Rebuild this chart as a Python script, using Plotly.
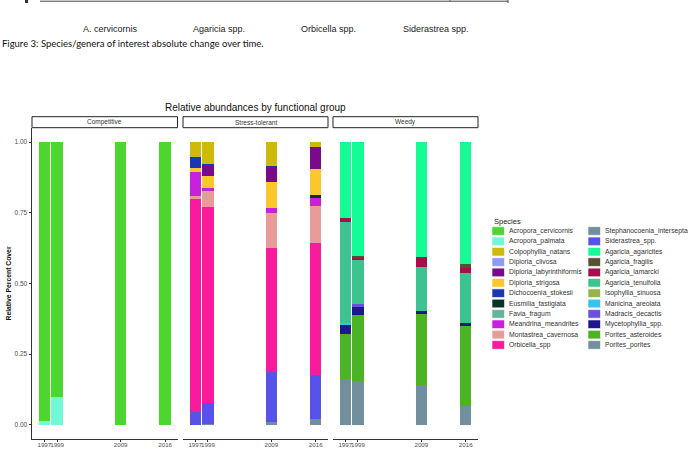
import plotly.graph_objects as go

W, H = 692, 449

years = [1997, 1999, 2009, 2016]
year_labels = ["1997", "1999", "2009", "2016"]
y_ticks = [0.0, 0.25, 0.5, 0.75, 1.0]
y_tick_labels = ["0.00", "0.25", "0.50", "0.75", "1.00"]
facets = ["Competitive", "Stress-tolerant", "Weedy"]

competitive = {
    "Acropora_cervicornis": [0.988, 0.903, 1.0, 1.0],
    "Acropora_palmata": [0.012, 0.097, 0.0, 0.0],
}
stress_tolerant = {
    "Colpophyllia_natans": [0.054, 0.078, 0.083, 0.016],
    "Dichocoenia_stokesii": [0.037, 0.004, 0.007, 0.0],
    "Diploria_labyrinthiformis": [0.0, 0.038, 0.050, 0.079],
    "Diploria_strigosa": [0.016, 0.041, 0.094, 0.092],
    "Eusmilia_fastigiata": [0.0, 0.0, 0.0, 0.009],
    "Meandrina_meandrites": [0.085, 0.013, 0.015, 0.029],
    "Montastrea_cavernosa": [0.007, 0.055, 0.126, 0.130],
    "Orbicella_spp": [0.756, 0.693, 0.438, 0.470],
    "Siderastrea_spp.": [0.045, 0.075, 0.178, 0.156],
    "Stephanocoenia_intersepta": [0.0, 0.003, 0.009, 0.019],
}
weedy = {
    "Agaricia_agaricites": [0.269, 0.402, 0.408, 0.430],
    "Agaricia_fragilis": [0.0, 0.008, 0.0, 0.015],
    "Agaricia_lamarcki": [0.012, 0.008, 0.032, 0.018],
    "Agaricia_tenuifolia": [0.357, 0.153, 0.159, 0.177],
    "Madracis_decactis": [0.0, 0.013, 0.0, 0.0],
    "Manicina_areolata": [0.006, 0.0, 0.0, 0.0],
    "Mycetophyllia_spp.": [0.034, 0.026, 0.009, 0.012],
    "Porites_asteroides": [0.160, 0.236, 0.252, 0.282],
    "Porites_porites": [0.162, 0.154, 0.140, 0.066],
}

legend_order = [
    "Acropora_cervicornis", "Acropora_palmata", "Colpophyllia_natans", "Diploria_clivosa",
    "Diploria_labyrinthiformis", "Diploria_strigosa", "Dichocoenia_stokesii", "Eusmilia_fastigiata",
    "Favia_fragum", "Meandrina_meandrites", "Montastrea_cavernosa", "Orbicella_spp",
    "Stephanocoenia_intersepta", "Siderastrea_spp.", "Agaricia_agaricites", "Agaricia_fragilis",
    "Agaricia_lamarcki", "Agaricia_tenuifolia", "Isophyllia_sinuosa", "Manicina_areolata",
    "Madracis_decactis", "Mycetophyllia_spp.", "Porites_asteroides", "Porites_porites",
]
colors = {
    "Acropora_cervicornis": "#4DD62F", "Acropora_palmata": "#72F8D6",
    "Colpophyllia_natans": "#CDBA0A", "Diploria_clivosa": "#8F9AF4",
    "Diploria_labyrinthiformis": "#7B0A8B", "Diploria_strigosa": "#FCC72B",
    "Dichocoenia_stokesii": "#1A36B3", "Eusmilia_fastigiata": "#07352A",
    "Favia_fragum": "#62B49B", "Meandrina_meandrites": "#C91FDE",
    "Montastrea_cavernosa": "#E89B98", "Orbicella_spp": "#FA1A9E",
    "Stephanocoenia_intersepta": "#718E9D", "Siderastrea_spp.": "#5652EA",
    "Agaricia_agaricites": "#14FC93", "Agaricia_fragilis": "#545030",
    "Agaricia_lamarcki": "#A60E4C", "Agaricia_tenuifolia": "#3DC38F",
    "Isophyllia_sinuosa": "#96B44A", "Manicina_areolata": "#33C4EA",
    "Madracis_decactis": "#6A50DF", "Mycetophyllia_spp.": "#1C168F",
    "Porites_asteroides": "#4BB425", "Porites_porites": "#718F9D",
}

top_labels = ["A. cervicornis", "Agaricia spp.", "Orbicella spp.", "Siderastrea spp."]
caption = "Figure 3: Species/genera of interest absolute change over time."
title = "Relative abundances by functional group"
y_title = "Relative Percent Cover"


def px(x):
    return x / W


def py(y):
    return 1 - y / H


FONT = "Liberation Sans, Arial, sans-serif"
fig = go.Figure()

groups = [competitive, stress_tolerant, weedy]
for gi, grp in enumerate(groups):
    suffix = "" if gi == 0 else str(gi + 1)
    for sp in sorted(grp.keys(), reverse=True):
        fig.add_trace(go.Bar(
            x=years, y=grp[sp], width=1.8, name=sp,
            marker=dict(color=colors[sp], line=dict(width=0)),
            xaxis="x" + suffix, yaxis="y" + suffix, showlegend=False,
            hoverinfo="x+y+name",
        ))

panel_x = [(32, 177.5), (183, 328), (333, 478)]
panel_top, panel_bot = 128, 439
layout = dict(
    width=W, height=H, margin=dict(l=0, r=0, t=0, b=0, autoexpand=False),
    paper_bgcolor="white", plot_bgcolor="white", barmode="stack",
    showlegend=False, font=dict(family=FONT, color="#333"),
)
for gi in range(3):
    suffix = "" if gi == 0 else str(gi + 1)
    x0, x1 = panel_x[gi]
    layout["xaxis" + suffix] = dict(
        domain=[px(x0), px(x1)], range=[1995.06, 2017.94], anchor="y" + suffix,
        tickvals=years, ticktext=year_labels, tickangle=0, automargin=False,
        ticklabelstandoff=-2,
        showline=True, linecolor="#333",
        linewidth=1, ticks="outside", ticklen=2, tickwidth=0.8, tickcolor="#333",
        tickfont=dict(size=6.2, color="#4D4D4D"), showgrid=False, zeroline=False,
        fixedrange=True,
    )
    layout["yaxis" + suffix] = dict(
        domain=[py(panel_bot), py(panel_top)], range=[-0.05, 1.05], anchor="x" + suffix,
        tickvals=y_ticks, ticktext=y_tick_labels, showgrid=False, zeroline=False,
        automargin=False,
        showline=(gi == 0), linecolor="#333", linewidth=1,
        ticks="outside" if gi == 0 else "", ticklen=2.5, tickwidth=0.8, tickcolor="#333",
        showticklabels=(gi == 0), tickfont=dict(size=6.5, color="#4D4D4D"),
        fixedrange=True,
    )

shapes = []
annotations = []

# facet strips
for gi in range(3):
    x0, x1 = panel_x[gi]
    shapes.append(dict(type="rect", xref="paper", yref="paper",
                       x0=px(x0), x1=px(x1), y0=py(127.7), y1=py(116.7),
                       line=dict(color="#222", width=1), fillcolor="white"))
    annotations.append(dict(text=facets[gi], xref="paper", yref="paper",
                            x=px((x0 + x1) / 2), y=py(122.2), showarrow=False,
                            xanchor="center", yanchor="middle",
                            font=dict(size=6.5, color="#333", family=FONT)))

# title
annotations.append(dict(text=title, xref="paper", yref="paper", x=px(255), y=py(108),
                        showarrow=False, xanchor="center", yanchor="middle",
                        font=dict(size=10, color="#111", family=FONT)))
# y title
annotations.append(dict(text="<b>" + y_title + "</b>", xref="paper", yref="paper",
                        x=px(7.5), y=py(284), showarrow=False, textangle=-90,
                        xanchor="center", yanchor="middle",
                        font=dict(size=6.8, color="#111", family=FONT)))

# legend (drawn manually, two columns)
annotations.append(dict(text="Species", xref="paper", yref="paper", x=px(491.5), y=py(221),
                        showarrow=False, xanchor="left", yanchor="middle",
                        font=dict(size=7.5, color="#222", family=FONT)))
for i, sp in enumerate(legend_order):
    col, row = divmod(i, 12)
    sx = 492 + col * 96
    cy = 231 + row * 10.36
    shapes.append(dict(type="rect", xref="paper", yref="paper",
                       x0=px(sx), x1=px(sx + 12.5), y0=py(cy + 4.3), y1=py(cy - 4.3),
                       line=dict(width=0.6, color="white"), fillcolor=colors[sp]))
    annotations.append(dict(text=sp, xref="paper", yref="paper", x=px(sx + 15), y=py(cy),
                            showarrow=False, xanchor="left", yanchor="middle",
                            font=dict(size=6.8, color="#333", family=FONT)))

# remnants of the figure above
shapes.append(dict(type="line", xref="paper", yref="paper", x0=px(40), x1=px(508),
                   y0=py(1.2), y1=py(1.2), line=dict(color="#444", width=1)))
shapes.append(dict(type="line", xref="paper", yref="paper", x0=px(450), x1=px(450),
                   y0=py(0), y1=py(2), line=dict(color="#666", width=1)))
shapes.append(dict(type="line", xref="paper", yref="paper", x0=px(508), x1=px(508),
                   y0=py(0), y1=py(3), line=dict(color="#444", width=1)))
shapes.append(dict(type="rect", xref="paper", yref="paper", x0=px(25), x1=px(28),
                   y0=py(3), y1=py(0), line=dict(width=0), fillcolor="#333"))
for lbl, cx in zip(top_labels, [110, 219, 328, 436]):
    annotations.append(dict(text=lbl, xref="paper", yref="paper", x=px(cx), y=py(29),
                            showarrow=False, xanchor="center", yanchor="middle",
                            font=dict(size=9, color="#222",
                                      family="Liberation Sans Narrow, Arial Narrow, Liberation Sans, sans-serif")))
annotations.append(dict(text=caption, xref="paper", yref="paper", x=px(0), y=py(43.5),
                        showarrow=False, xanchor="left", yanchor="middle",
                        font=dict(size=9.5, color="#111", family="Lato, Carlito, sans-serif")))

layout["shapes"] = shapes
layout["annotations"] = annotations
fig.update_layout(**layout)
fig.write_html("out.html")
